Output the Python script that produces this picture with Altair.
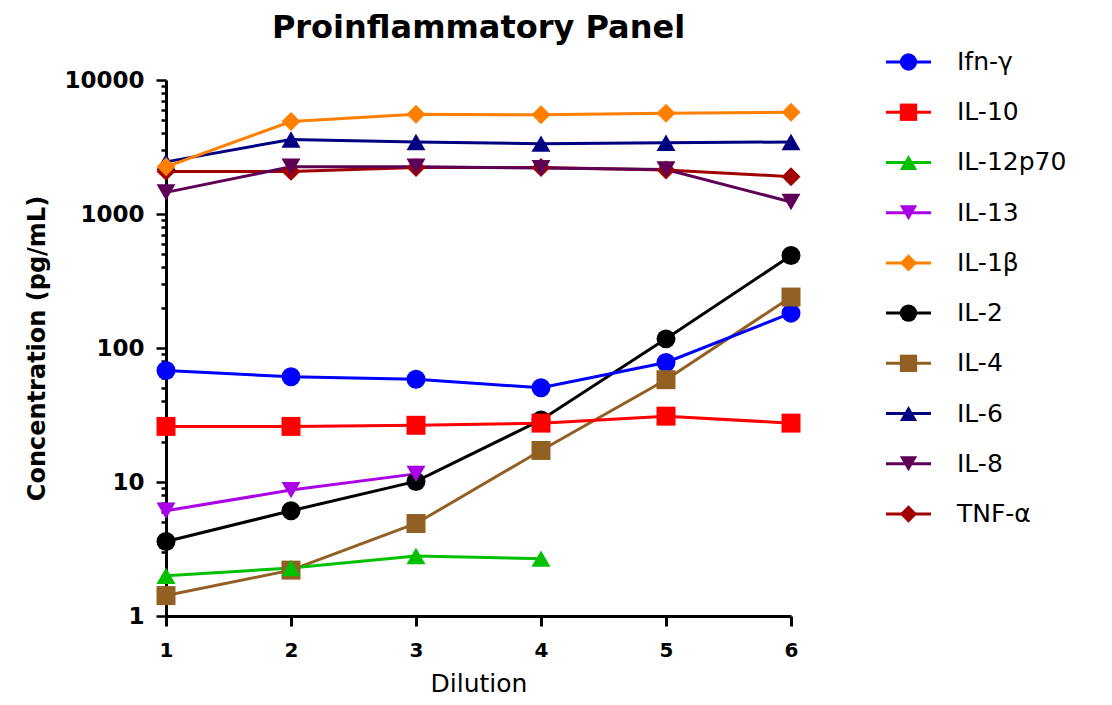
import altair as alt
import pandas as pd

# ---- data ----
dilution = [1, 2, 3, 4, 5, 6]
cytokines = ["Ifn-γ", "IL-10", "IL-12p70", "IL-13", "IL-1β", "IL-2", "IL-4", "IL-6", "IL-8", "TNF-α"]

ifn_g = [68, 61, 58.5, 50.5, 78, 182]
il_10 = [26, 26, 26.5, 27.5, 31, 27.5]
il_12p70 = [2.0, 2.28, 2.8, 2.68]
il_13 = [6.1, 8.7, 11.5]
il_1b = [2250, 4900, 5550, 5500, 5650, 5750]
il_2 = [3.6, 6.1, 10.1, 29, 117, 490]
il_4 = [1.42, 2.2, 4.9, 17.2, 58, 240]
il_6 = [2450, 3600, 3450, 3350, 3400, 3450]
il_8 = [1450, 2250, 2250, 2200, 2150, 1230]
tnf_a = [2080, 2080, 2220, 2220, 2130, 1900]

series_values = [ifn_g, il_10, il_12p70, il_13, il_1b, il_2, il_4, il_6, il_8, tnf_a]

colors = ["#0000FF", "#FF0000", "#00C000", "#AA00E6", "#FF8000",
          "#000000", "#936024", "#000080", "#5E0055", "#A00000"]
shapes = ["circle", "square", "triangle-up", "triangle-down", "diamond",
          "circle", "square", "triangle-up", "triangle-down", "diamond"]
# drawing order of marker groups (later groups are drawn on top)
shape_order = ["circle", "square", "triangle-up", "diamond", "triangle-down"]

y_ticks = [m * 10 ** e for e in range(4) for m in range(1, 10)] + [10000]

rows = []
for name, vals in reversed(list(zip(cytokines, series_values))):
    for d, v in zip(dilution, vals):
        rows.append({"Dilution": d, "Concentration": v, "Cytokine": name})
df = pd.DataFrame(rows)
legend_df = pd.DataFrame({"Cytokine": cytokines})

FONT = "DejaVu Sans"
major = "abs(log(datum.value)/LN10 - round(log(datum.value)/LN10)) < 0.000001"

x_enc = alt.X(
    "Dilution:Q",
    scale=alt.Scale(domain=[1, 6], nice=False, zero=False),
    axis=alt.Axis(values=dilution, format="d", title="Dilution", titleFont=FONT,
                  titleFontSize=25, titleFontWeight="normal", titlePadding=11,
                  labelFont=FONT, labelFontSize=20, labelFontWeight="bold",
                  labelPadding=14, tickSize=10, tickWidth=3, domainWidth=3,
                  grid=False, labelFlush=False),
)
y_enc = alt.Y(
    "Concentration:Q",
    scale=alt.Scale(type="log", domain=[1, 10000], nice=False),
    axis=alt.Axis(values=y_ticks, title="Concentration (pg/mL)", titleFont=FONT,
                  titleFontSize=24, titleFontWeight="bold", titlePadding=14,
                  labelFont=FONT, labelFontSize=23, labelFontWeight="bold",
                  labelExpr=f"({major}) ? '' + datum.value : ''",
                  labelOverlap=False, labelFlush=False, labelPadding=12,
                  tickSize={"condition": {"test": major, "value": 10}, "value": 5},
                  tickWidth=2.5, domainWidth=3, grid=False),
)

color_scale = alt.Scale(domain=cytokines, range=colors)
color_plain = alt.Color("Cytokine:N", scale=color_scale, legend=None)

lines = alt.Chart(df).mark_line(strokeWidth=3).encode(x=x_enc, y=y_enc, color=color_plain)

point_layers = []
for shp in shape_order:
    members = [c for c, s in zip(cytokines, shapes) if s == shp]
    point_layers.append(
        alt.Chart(df)
        .transform_filter(alt.FieldOneOfPredicate(field="Cytokine", oneOf=members))
        .mark_point(filled=True, size=360, opacity=1, shape=shp)
        .encode(x=x_enc, y=y_enc, color=color_plain)
    )
main = alt.layer(lines, *point_layers)

# ---- legend drawn as its own small layer (line + marker + label per cytokine) ----
leg_x = alt.Scale(domain=[0, 1], range=[720, 765])
leg_y = alt.Y("Cytokine:N",
              scale=alt.Scale(type="point", domain=cytokines, range=[-18, 434], padding=0),
              axis=None)
leg_rule = alt.Chart(legend_df).mark_rule(strokeWidth=3).encode(
    x=alt.X(datum=0, scale=leg_x, axis=None), x2=alt.X2(datum=1),
    y=leg_y, color=color_plain,
)
leg_pts = alt.Chart(legend_df).mark_point(filled=True, size=300, opacity=1).encode(
    x=alt.X(datum=0.5, scale=leg_x, axis=None), y=leg_y, color=color_plain,
    shape=alt.Shape("Cytokine:N", scale=alt.Scale(domain=cytokines, range=shapes), legend=None),
)
leg_txt = alt.Chart(legend_df).mark_text(
    align="left", baseline="middle", dx=26, font=FONT, fontSize=25, color="black"
).encode(
    x=alt.X(datum=1, scale=leg_x, axis=None), y=leg_y, text="Cytokine:N",
)
legend_block = alt.layer(leg_rule, leg_pts, leg_txt)

chart = alt.layer(main, legend_block).resolve_scale(
    x="independent", y="independent"
).properties(
    width=625, height=536,
    title=alt.TitleParams("Proinflammatory Panel", font=FONT, fontSize=32,
                          fontWeight="bold", color="black", anchor="middle", offset=5),
    padding={"left": 17, "top": 4, "right": 5, "bottom": 0},
).configure_view(stroke=None).configure_axis(
    domainColor="black", tickColor="black", labelColor="black", titleColor="black"
)

chart.save("out.html", embed_options={"renderer": "svg", "actions": False})
